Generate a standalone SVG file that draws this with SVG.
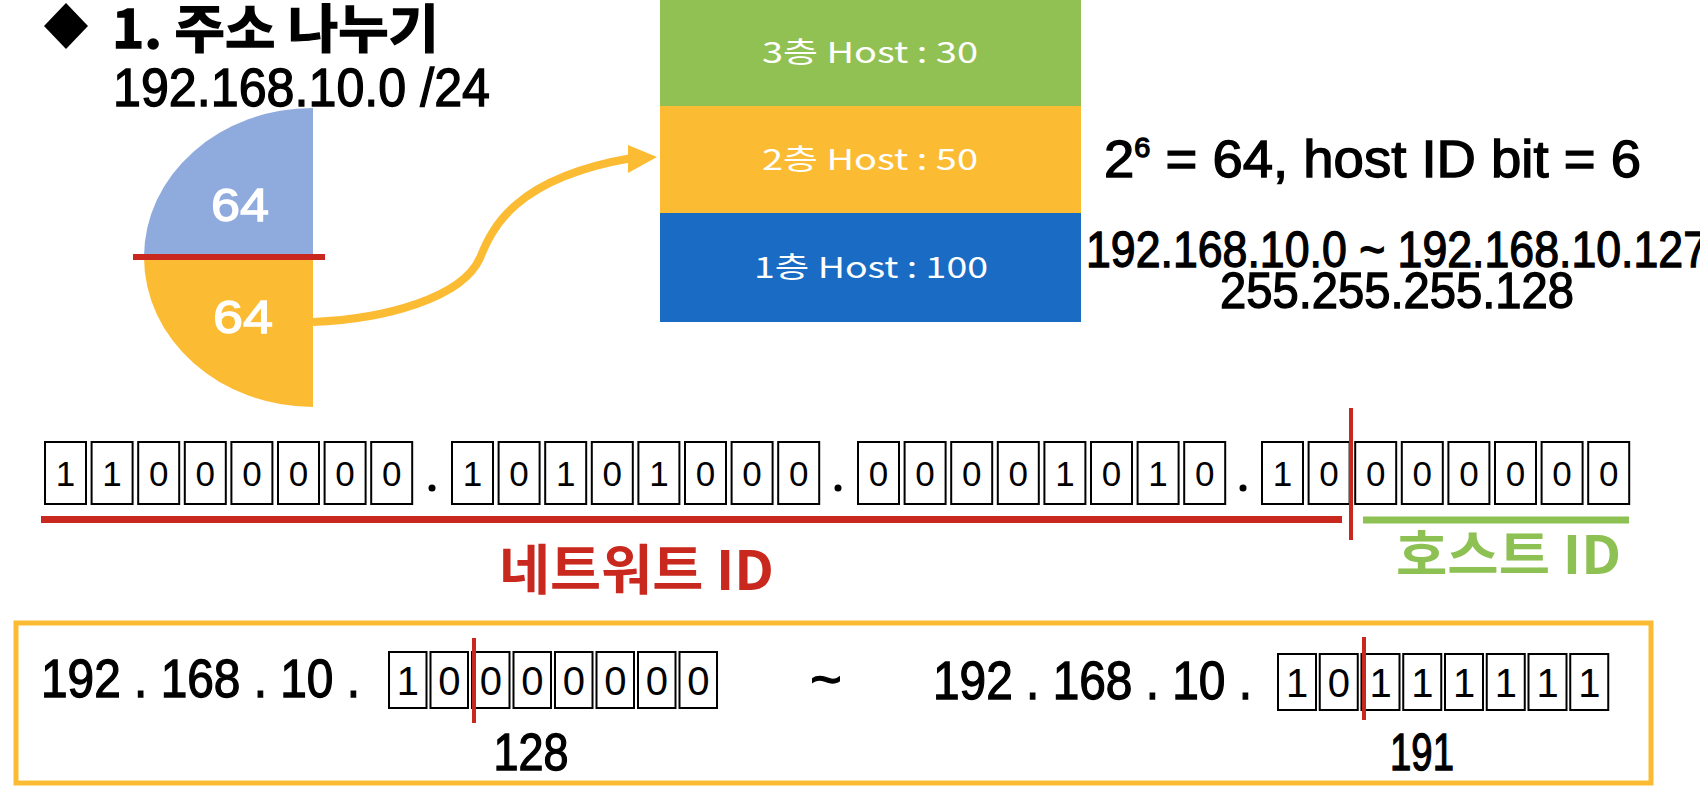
<svg xmlns="http://www.w3.org/2000/svg" width="1700" height="794" viewBox="0 0 1700 794">
<style>
.t{font-family:"Liberation Sans","Noto Sans CJK KR",sans-serif;fill:#000;stroke:#000;stroke-width:1.3}
.k{font-family:"Noto Sans CJK KR","Liberation Sans",sans-serif;font-weight:bold}
.w{fill:#fff;stroke:#fff}
.bx{fill:#fff;stroke:#000;stroke-width:2}
.bd{font-family:"Liberation Sans",sans-serif;font-size:35px;fill:#000;text-anchor:middle}
.bd2{font-family:"Liberation Sans",sans-serif;font-size:40px;fill:#000;text-anchor:middle}
.hl{font-family:"Noto Sans CJK KR","Liberation Sans",sans-serif;font-size:29px;fill:#fff;text-anchor:start}
.red{stroke:#C8281E}
</style>
<rect width="1700" height="794" fill="#fff"/>

<g id="title">
<polygon points="66,3 88,26 66,49 44,26" fill="#000"/>
<text class="t k" x="112" y="48" font-size="52" textLength="327" lengthAdjust="spacingAndGlyphs" stroke-width="0.5">1. 주소 나누기</text>
<text class="t" x="113" y="106" font-size="53" textLength="377" lengthAdjust="spacingAndGlyphs">192.168.10.0 /24</text>
</g>

<g id="pie">
<path d="M313,257 L144,257 A169,149 0 0 1 313,108 Z" fill="#8FAADC"/>
<path d="M313,257 L144,257 A169,150 0 0 0 313,407 Z" fill="#FBBC34"/>
<line x1="133" y1="257" x2="325" y2="257" stroke="#C8281E" stroke-width="6"/>
<text class="t w" x="240" y="221" font-size="47" text-anchor="middle" textLength="58" lengthAdjust="spacingAndGlyphs">64</text>
<text class="t w" x="243" y="333" font-size="47" text-anchor="middle" textLength="60" lengthAdjust="spacingAndGlyphs">64</text>
</g>

<g id="connectors">
<path d="M313,322 C385,319 462,298 480,258 C492,228 515,178 632,158" fill="none" stroke="#FBBC34" stroke-width="8"/>
<polygon points="628,145 657,157 628,173" fill="#FBBC34"/>
</g>

<g id="floors">
<rect x="660" y="0" width="421" height="106" fill="#92C153"/>
<rect x="660" y="106" width="421" height="107" fill="#FBBC34"/>
<rect x="660" y="213" width="421" height="109" fill="#1A6BC4"/>
<text class="hl" x="762" y="63" textLength="216" lengthAdjust="spacingAndGlyphs">3층 Host : 30</text>
<text class="hl" x="762" y="170" textLength="216" lengthAdjust="spacingAndGlyphs">2층 Host : 50</text>
<text class="hl" x="754" y="278" textLength="234" lengthAdjust="spacingAndGlyphs">1층 Host : 100</text>
</g>

<g id="calc">
<text class="t" x="1104" y="177" font-size="51" textLength="537" lengthAdjust="spacingAndGlyphs">2<tspan font-size="27" dy="-20">6</tspan><tspan dy="20"> = 64, host ID bit = 6</tspan></text>
<text class="t" x="1086" y="267" font-size="50" textLength="622" lengthAdjust="spacingAndGlyphs">192.168.10.0 ~ 192.168.10.127</text>
<text class="t" x="1220" y="308" font-size="50" textLength="354" lengthAdjust="spacingAndGlyphs">255.255.255.128</text>
</g>

<g id="bits">
<g id="oct1">
<rect class="bx" x="45" y="442" width="41" height="62"/><text class="bd" x="65.5" y="486">1</text>
<rect class="bx" x="91.6" y="442" width="41" height="62"/><text class="bd" x="112.1" y="486">1</text>
<rect class="bx" x="138.2" y="442" width="41" height="62"/><text class="bd" x="158.7" y="486">0</text>
<rect class="bx" x="184.8" y="442" width="41" height="62"/><text class="bd" x="205.3" y="486">0</text>
<rect class="bx" x="231.4" y="442" width="41" height="62"/><text class="bd" x="251.9" y="486">0</text>
<rect class="bx" x="278" y="442" width="41" height="62"/><text class="bd" x="298.5" y="486">0</text>
<rect class="bx" x="324.6" y="442" width="41" height="62"/><text class="bd" x="345.1" y="486">0</text>
<rect class="bx" x="371.2" y="442" width="41" height="62"/><text class="bd" x="391.7" y="486">0</text>
</g>
<circle cx="432" cy="488" r="3.5" fill="#000"/>
<g id="oct2">
<rect class="bx" x="452" y="442" width="41" height="62"/><text class="bd" x="472.5" y="486">1</text>
<rect class="bx" x="498.6" y="442" width="41" height="62"/><text class="bd" x="519.1" y="486">0</text>
<rect class="bx" x="545.2" y="442" width="41" height="62"/><text class="bd" x="565.7" y="486">1</text>
<rect class="bx" x="591.8" y="442" width="41" height="62"/><text class="bd" x="612.3" y="486">0</text>
<rect class="bx" x="638.4" y="442" width="41" height="62"/><text class="bd" x="658.9" y="486">1</text>
<rect class="bx" x="685" y="442" width="41" height="62"/><text class="bd" x="705.5" y="486">0</text>
<rect class="bx" x="731.6" y="442" width="41" height="62"/><text class="bd" x="752.1" y="486">0</text>
<rect class="bx" x="778.2" y="442" width="41" height="62"/><text class="bd" x="798.7" y="486">0</text>
</g>
<circle cx="838" cy="488" r="3.5" fill="#000"/>
<g id="oct3">
<rect class="bx" x="858" y="442" width="41" height="62"/><text class="bd" x="878.5" y="486">0</text>
<rect class="bx" x="904.6" y="442" width="41" height="62"/><text class="bd" x="925.1" y="486">0</text>
<rect class="bx" x="951.2" y="442" width="41" height="62"/><text class="bd" x="971.7" y="486">0</text>
<rect class="bx" x="997.8" y="442" width="41" height="62"/><text class="bd" x="1018.3" y="486">0</text>
<rect class="bx" x="1044.4" y="442" width="41" height="62"/><text class="bd" x="1064.9" y="486">1</text>
<rect class="bx" x="1091" y="442" width="41" height="62"/><text class="bd" x="1111.5" y="486">0</text>
<rect class="bx" x="1137.6" y="442" width="41" height="62"/><text class="bd" x="1158.1" y="486">1</text>
<rect class="bx" x="1184.2" y="442" width="41" height="62"/><text class="bd" x="1204.7" y="486">0</text>
</g>
<circle cx="1243" cy="488" r="3.5" fill="#000"/>
<g id="oct4">
<rect class="bx" x="1262" y="442" width="41" height="62"/><text class="bd" x="1282.5" y="486">1</text>
<rect class="bx" x="1308.6" y="442" width="41" height="62"/><text class="bd" x="1329.1" y="486">0</text>
<rect class="bx" x="1355.2" y="442" width="41" height="62"/><text class="bd" x="1375.7" y="486">0</text>
<rect class="bx" x="1401.8" y="442" width="41" height="62"/><text class="bd" x="1422.3" y="486">0</text>
<rect class="bx" x="1448.4" y="442" width="41" height="62"/><text class="bd" x="1468.9" y="486">0</text>
<rect class="bx" x="1495" y="442" width="41" height="62"/><text class="bd" x="1515.5" y="486">0</text>
<rect class="bx" x="1541.6" y="442" width="41" height="62"/><text class="bd" x="1562.1" y="486">0</text>
<rect class="bx" x="1588.2" y="442" width="41" height="62"/><text class="bd" x="1608.7" y="486">0</text>
</g>
<line x1="1351" y1="408" x2="1351" y2="540" stroke="#C8281E" stroke-width="4"/>
<line x1="41" y1="519.5" x2="1342" y2="519.5" stroke="#C8281E" stroke-width="7"/>
<line x1="1363" y1="520" x2="1629" y2="520" stroke="#8DC153" stroke-width="7"/>
<text class="k" x="499" y="590" font-size="54" fill="#C8281E" textLength="275" lengthAdjust="spacingAndGlyphs">네트워트 ID</text>
<text class="k" x="1396" y="574" font-size="52" fill="#8DC153" textLength="225" lengthAdjust="spacingAndGlyphs">호스트 ID</text>
</g>

<g id="range">
<rect x="16" y="623" width="1635" height="160" fill="none" stroke="#FBBC34" stroke-width="5"/>
<text class="t" x="41" y="697" font-size="54" textLength="319" lengthAdjust="spacingAndGlyphs">192 . 168 . 10 .</text>
<g id="low">
<rect class="bx" x="389" y="652" width="37.5" height="56"/><text class="bd2" x="407.8" y="695">1</text>
<rect class="bx" x="430.5" y="652" width="37.5" height="56"/><text class="bd2" x="449.3" y="695">0</text>
<rect class="bx" x="472" y="652" width="37.5" height="56"/><text class="bd2" x="490.8" y="695">0</text>
<rect class="bx" x="513.5" y="652" width="37.5" height="56"/><text class="bd2" x="532.3" y="695">0</text>
<rect class="bx" x="555" y="652" width="37.5" height="56"/><text class="bd2" x="573.8" y="695">0</text>
<rect class="bx" x="596.5" y="652" width="37.5" height="56"/><text class="bd2" x="615.3" y="695">0</text>
<rect class="bx" x="638" y="652" width="37.5" height="56"/><text class="bd2" x="656.8" y="695">0</text>
<rect class="bx" x="679.5" y="652" width="37.5" height="56"/><text class="bd2" x="698.3" y="695">0</text>
<line x1="474" y1="638" x2="474" y2="723" stroke="#C8281E" stroke-width="4"/>
<text class="t" x="531" y="770" font-size="52" text-anchor="middle" textLength="75" lengthAdjust="spacingAndGlyphs">128</text>
</g>
<text class="t" x="826" y="698" font-size="54" text-anchor="middle">~</text>
<text class="t" x="933" y="699" font-size="54" textLength="319" lengthAdjust="spacingAndGlyphs">192 . 168 . 10 .</text>
<g id="high">
<rect class="bx" x="1278" y="654" width="38" height="56"/><text class="bd2" x="1297" y="697">1</text>
<rect class="bx" x="1319.75" y="654" width="38" height="56"/><text class="bd2" x="1338.75" y="697">0</text>
<rect class="bx" x="1361.5" y="654" width="38" height="56"/><text class="bd2" x="1380.5" y="697">1</text>
<rect class="bx" x="1403.25" y="654" width="38" height="56"/><text class="bd2" x="1422.25" y="697">1</text>
<rect class="bx" x="1445" y="654" width="38" height="56"/><text class="bd2" x="1464" y="697">1</text>
<rect class="bx" x="1486.75" y="654" width="38" height="56"/><text class="bd2" x="1505.75" y="697">1</text>
<rect class="bx" x="1528.5" y="654" width="38" height="56"/><text class="bd2" x="1547.5" y="697">1</text>
<rect class="bx" x="1570.25" y="654" width="38" height="56"/><text class="bd2" x="1589.25" y="697">1</text>
<line x1="1364" y1="637" x2="1364" y2="720" stroke="#C8281E" stroke-width="4"/>
<text class="t" x="1422" y="770" font-size="52" text-anchor="middle" textLength="64" lengthAdjust="spacingAndGlyphs">191</text>
</g>
</g>
</svg>
